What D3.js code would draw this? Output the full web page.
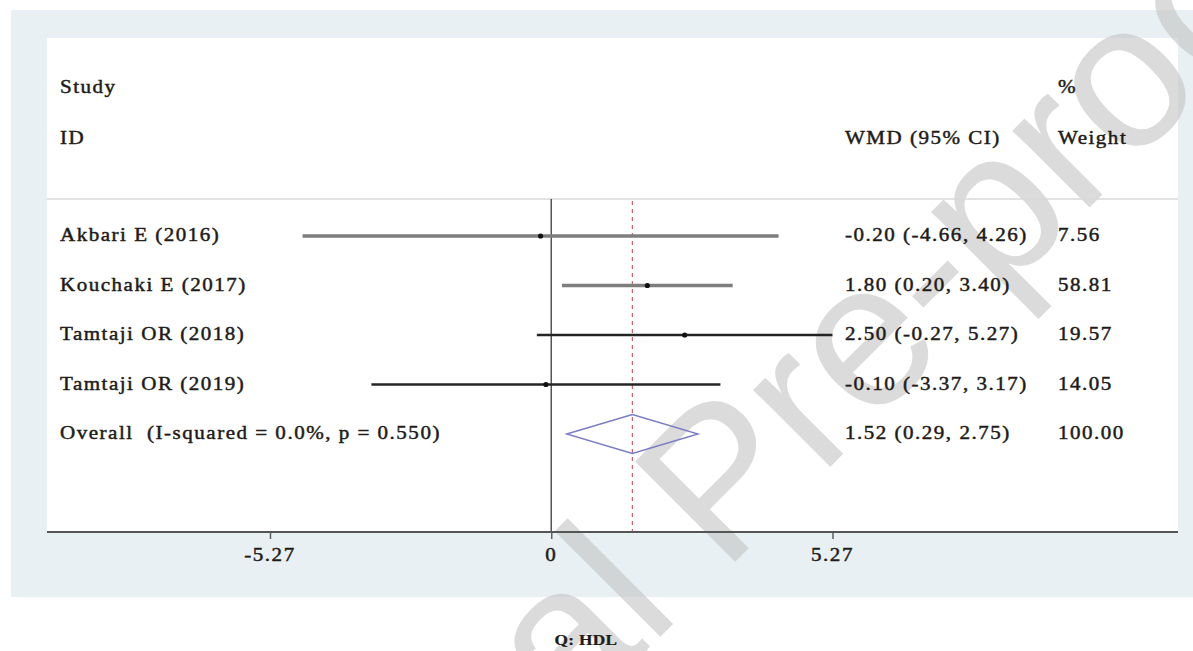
<!DOCTYPE html>
<html>
<head>
<meta charset="utf-8">
<script src="https://cdn.jsdelivr.net/npm/d3@7"></script>
<style>
  html, body { margin: 0; padding: 0; background: #ffffff; }
  svg { display: block; }
  .lbl { font-family: "Liberation Serif", "Times New Roman", serif; fill: #1e1b19; white-space: pre; }
</style>
</head>
<body>
<svg id="chart" width="1193" height="651"></svg>
<script>
// Study-level results: weighted mean difference with 95% CI and weight (%)
const studies = ["Akbari E (2016)", "Kouchaki E (2017)", "Tamtaji OR (2018)", "Tamtaji OR (2019)"];
const wmd     = [-0.20, 1.80, 2.50, -0.10];
const lower   = [-4.66, 0.20, -0.27, -3.37];
const upper   = [4.26, 3.40, 5.27, 3.17];
const weights = [7.56, 58.81, 19.57, 14.05];

// Pooled estimate
const overallLabel  = "Overall  (I-squared = 0.0%, p = 0.550)";
const overallWmd    = 1.52;
const overallLower  = 0.29;
const overallUpper  = 2.75;
const overallWeight = 100.00;

const tickValues = [-5.27, 0, 5.27];
const tickLabels = ["-5.27", "0", "5.27"];
const panelTitle = "Q: HDL";

// CI line shading per study row
const lineShade = ["#7e7e7e", "#7e7e7e", "#242424", "#242424"];

const svg = d3.select("#chart");
const W = 1193, H = 651;

// layout
const outer = { x: 11, y: 10, w: W - 11, h: 587 };
const plot  = { left: 47, right: 1178, top: 38, axisY: 532, headerLine: 199 };
const colLabel = 60, colCI = 845, colWeight = 1058;

const x = d3.scaleLinear().domain([-5.27, 5.27]).range([270, 832.5]);
const y = d3.scaleLinear().domain([0, 4]).range([236, 434]);

const fmt = v => v.toFixed(2);

// serif text with the slightly widened setting used across the chart
function label(parent, px, py, str, opts = {}) {
  const size = opts.size || 18.3;
  const g = parent.append("g")
    .attr("transform", `translate(${px},${py}) scale(${opts.sx || 1.15},1)`);
  g.append("text")
    .attr("class", "lbl")
    .attr("text-anchor", opts.anchor || "start")
    .attr("font-size", size)
    .attr("font-weight", opts.weight || "normal")
    .attr("letter-spacing", opts.ls !== undefined ? opts.ls : 1.3)
    .style("stroke", "#1e1b19")
    .style("stroke-width", opts.stroke !== undefined ? opts.stroke : 0.45)
    .text(str);
  return g;
}

// backgrounds
svg.append("rect").attr("x", outer.x).attr("y", outer.y)
  .attr("width", outer.w).attr("height", outer.h).attr("fill", "#e9f0f3");
svg.append("rect").attr("x", plot.left).attr("y", plot.top)
  .attr("width", plot.right - plot.left).attr("height", plot.axisY - plot.top)
  .attr("fill", "#ffffff");

// diagonal watermark
svg.append("text")
  .attr("transform", "translate(205,1092) rotate(-45)")
  .attr("font-size", 206)
  .style("font-family", "'Liberation Sans', Arial, sans-serif")
  .style("fill", "#c4c4c4")
  .style("opacity", 0.6)
  .text("Journal Pre-proof");

// header separator
svg.append("line")
  .attr("x1", plot.left).attr("x2", plot.right)
  .attr("y1", plot.headerLine).attr("y2", plot.headerLine)
  .attr("stroke", "#d9d9d9").attr("stroke-width", 1.5);

// headers
label(svg, colLabel, 93, "Study");
label(svg, colLabel, 144, "ID");
label(svg, colCI, 144, "WMD (95% CI)");
label(svg, colWeight, 93, "%");
label(svg, colWeight, 144, "Weight");

// null line
svg.append("line")
  .attr("x1", x(0)).attr("x2", x(0))
  .attr("y1", plot.headerLine).attr("y2", plot.axisY)
  .attr("stroke", "#4a4a4a").attr("stroke-width", 1.4);

// pooled-effect reference line
svg.append("line")
  .attr("x1", x(overallWmd)).attr("x2", x(overallWmd))
  .attr("y1", plot.headerLine + 2).attr("y2", plot.axisY)
  .attr("stroke", "#d0606e").attr("stroke-width", 1.2)
  .attr("stroke-dasharray", "4,4");

// confidence intervals
const rows = svg.append("g").selectAll("g").data(studies).join("g");
rows.append("line")
  .attr("x1", (d, i) => x(lower[i])).attr("x2", (d, i) => x(upper[i]))
  .attr("y1", (d, i) => y(i)).attr("y2", (d, i) => y(i))
  .attr("stroke", (d, i) => lineShade[i])
  .attr("stroke-width", (d, i) => i < 2 ? 3.6 : 2.6);
rows.append("circle")
  .attr("cx", (d, i) => x(wmd[i])).attr("cy", (d, i) => y(i))
  .attr("r", 2.6).attr("fill", "#111");

studies.forEach((s, i) => {
  label(svg, colLabel, y(i) + 5, s);
  label(svg, colCI, y(i) + 5, `${fmt(wmd[i])} (${fmt(lower[i])}, ${fmt(upper[i])})`);
  label(svg, colWeight, y(i) + 5, fmt(weights[i]));
});

// pooled diamond
const yo = y(4), dh = 19.5;
svg.append("path")
  .attr("d", `M${x(overallLower)},${yo} L${x(overallWmd)},${yo - dh} L${x(overallUpper)},${yo} L${x(overallWmd)},${yo + dh} Z`)
  .attr("fill", "none").attr("stroke", "#7b7bc6").attr("stroke-width", 1.4);
label(svg, colLabel, yo + 5, overallLabel);
label(svg, colCI, yo + 5, `${fmt(overallWmd)} (${fmt(overallLower)}, ${fmt(overallUpper)})`);
label(svg, colWeight, yo + 5, fmt(overallWeight));

// x axis
svg.append("line")
  .attr("x1", plot.left).attr("x2", plot.right)
  .attr("y1", plot.axisY).attr("y2", plot.axisY)
  .attr("stroke", "#555").attr("stroke-width", 2);
const axis = svg.append("g")
  .attr("transform", `translate(0,${plot.axisY})`)
  .call(d3.axisBottom(x).tickValues(tickValues).tickSize(7).tickFormat(() => ""));
axis.select(".domain").remove();
axis.selectAll(".tick line").attr("stroke", "#555").attr("stroke-width", 1.4);
tickValues.forEach((v, i) => {
  label(svg, x(v), 561, tickLabels[i], { anchor: "middle" });
});

// panel title
label(svg, 586, 645, panelTitle, { anchor: "middle", size: 15, weight: "bold", ls: 0.3, stroke: 0.25 });
</script>
</body>
</html>
